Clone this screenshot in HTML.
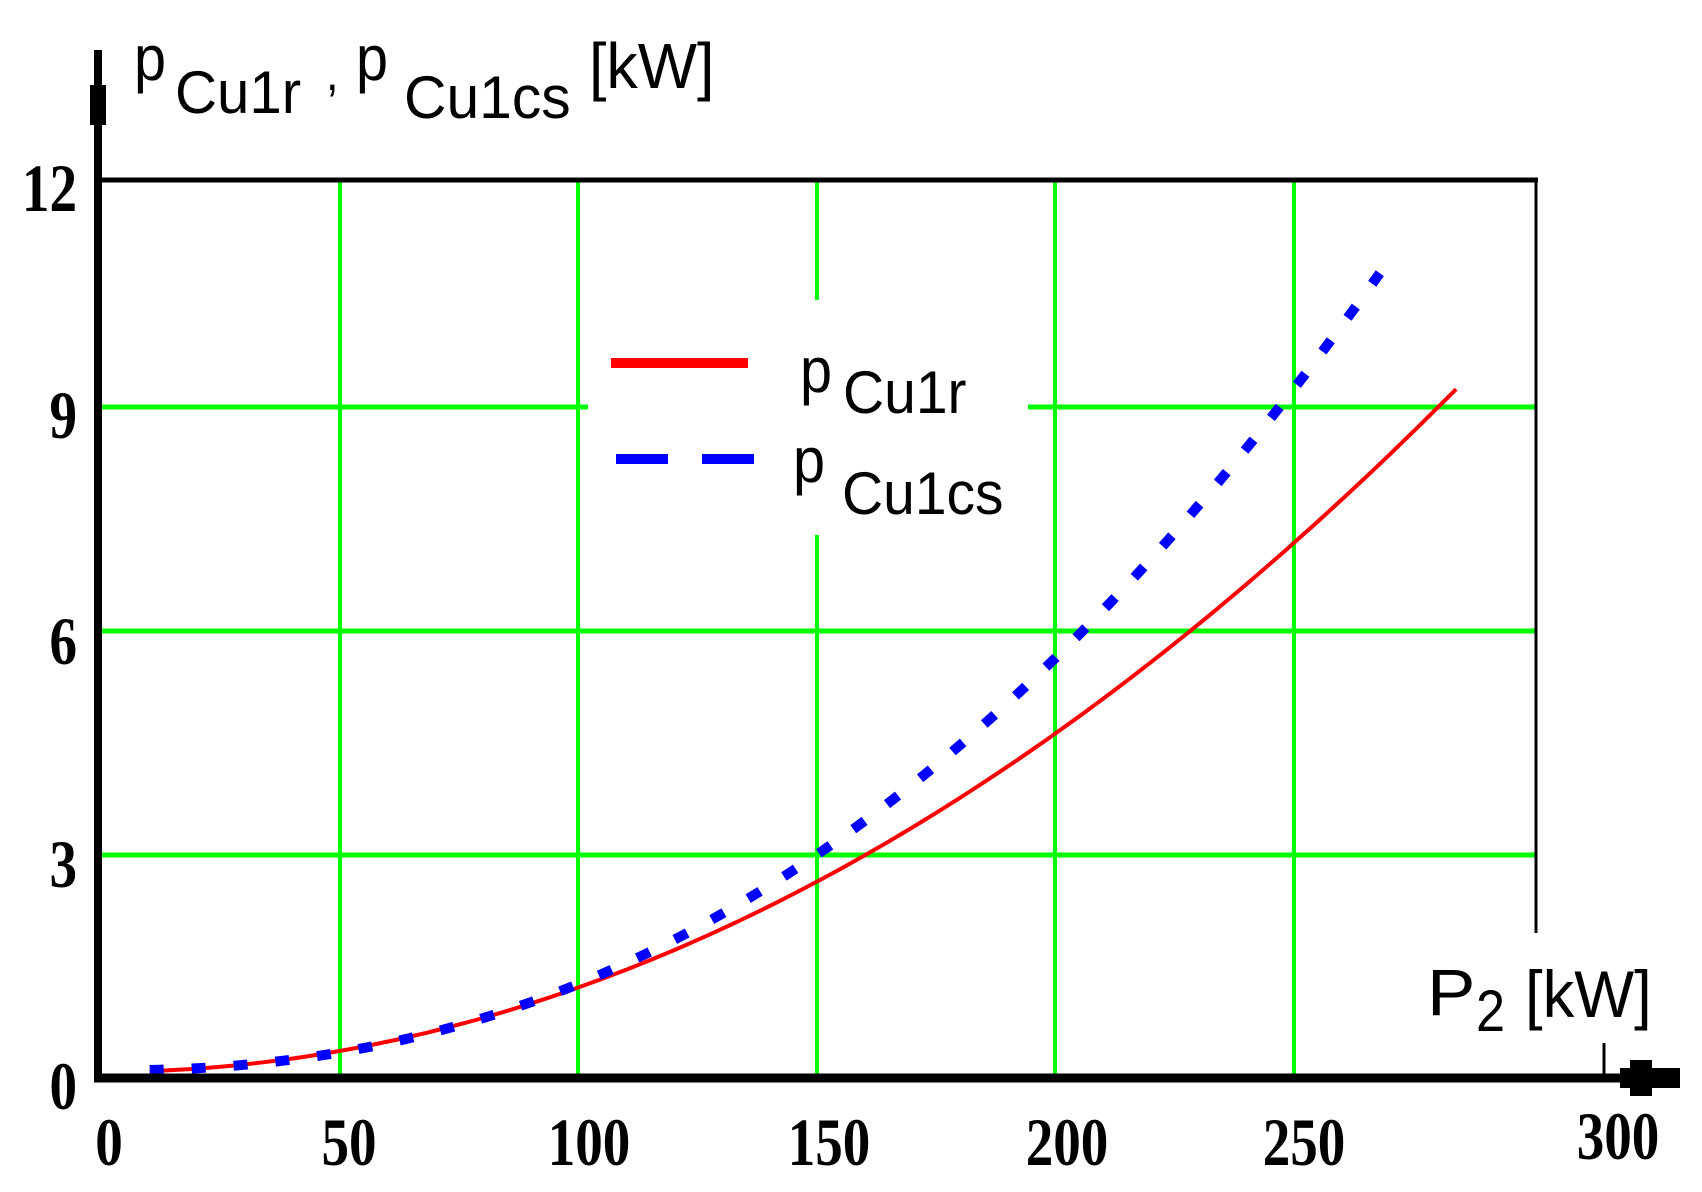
<!DOCTYPE html>
<html><head><meta charset="utf-8"><style>
html,body{margin:0;padding:0;background:#fff;}
svg{display:block;}
.t{font-family:"Liberation Serif",serif;font-weight:bold;font-size:68px;fill:#000;}
.s{font-family:"Liberation Sans",sans-serif;fill:#000;}
</style></head><body>
<svg id="c" width="1702" height="1192" viewBox="0 0 1702 1192" xmlns="http://www.w3.org/2000/svg">
<rect width="1702" height="1192" fill="#fff"/>
<g stroke="#00ff00" stroke-width="4">
<line x1="340" y1="182" x2="340" y2="1078"/>
<line x1="578" y1="182" x2="578" y2="1078"/>
<line x1="817" y1="182" x2="817" y2="1078"/>
<line x1="1055" y1="182" x2="1055" y2="1078"/>
<line x1="1294" y1="182" x2="1294" y2="1078"/>
</g>
<g stroke="#00ff00" stroke-width="5">
<line x1="100" y1="407" x2="1536" y2="407"/>
<line x1="100" y1="631" x2="1536" y2="631"/>
<line x1="100" y1="855" x2="1536" y2="855"/>
</g>
<rect x="588" y="300" width="440" height="235" fill="#fff"/>
<path id="red" fill="none" stroke="#ff0000" stroke-width="4"/>
<path id="blue" fill="none" stroke="#0000ff" stroke-width="10" stroke-dasharray="14 28"/>
<!-- axes -->
<line x1="100" y1="180" x2="1538" y2="180" stroke="#000" stroke-width="5"/>
<line x1="1536" y1="180" x2="1536" y2="933" stroke="#000" stroke-width="3"/>
<line x1="98" y1="1082" x2="98" y2="50" stroke="#000" stroke-width="8"/>
<rect x="90" y="85" width="16" height="40" fill="#000"/>
<line x1="94" y1="1078" x2="1680" y2="1078" stroke="#000" stroke-width="9"/>
<rect x="1620" y="1068" width="60" height="20" fill="#000"/>
<rect x="1630" y="1060" width="22" height="36" fill="#000"/>
<line x1="1604" y1="1043" x2="1604" y2="1078" stroke="#000" stroke-width="3"/>
<!-- legend -->
<rect x="611" y="358" width="137" height="10" fill="#ff0000"/>
<rect x="616" y="454" width="52" height="10" fill="#0000ff"/>
<rect x="702" y="454" width="52" height="10" fill="#0000ff"/>
<g class="s" transform="translate(800,0) scale(0.9,1)"><text x="0" y="392" font-size="64">p</text></g>
<g class="s" transform="translate(843,0) scale(0.95,1)"><text x="0" y="413" font-size="60">Cu1r</text></g>
<g class="s" transform="translate(793,0) scale(0.9,1)"><text x="0" y="482" font-size="64">p</text></g>
<g class="s" transform="translate(842,0) scale(0.95,1)"><text x="0" y="514" font-size="60">Cu1cs</text></g>
<!-- title -->
<g class="s" transform="translate(134,0) scale(0.9,1)"><text x="0" y="80" font-size="64">p</text></g>
<g class="s" transform="translate(175,0) scale(0.97,1)"><text x="0" y="113" font-size="60">Cu1r</text></g>
<g class="s" transform="translate(326,0) scale(0.9,1)"><text x="0" y="90" font-size="50">,</text></g>
<g class="s" transform="translate(356,0) scale(0.9,1)"><text x="0" y="80" font-size="64">p</text></g>
<g class="s" transform="translate(404,0) scale(0.98,1)"><text x="0" y="118" font-size="60">Cu1cs</text></g>
<g class="s" transform="translate(589,0) scale(0.98,1)"><text x="0" y="88" font-size="64">[kW]</text></g>
<!-- x label -->
<g class="s" transform="translate(1427,0) scale(1.1,1)"><text x="0" y="1015" font-size="66">P</text></g>
<g class="s" transform="translate(1476,0) scale(0.9,1)"><text x="0" y="1031" font-size="58">2</text></g>
<g class="s" transform="translate(1525,0) scale(0.96,1)"><text x="0" y="1017" font-size="66">[kW]</text></g>
<!-- tick labels -->
<g class="t" text-anchor="middle">
<g transform="translate(109,0) scale(0.81,1)"><text x="0" y="1165">0</text></g>
<g transform="translate(349,0) scale(0.81,1)"><text x="0" y="1165">50</text></g>
<g transform="translate(589,0) scale(0.81,1)"><text x="0" y="1165">100</text></g>
<g transform="translate(829,0) scale(0.81,1)"><text x="0" y="1165">150</text></g>
<g transform="translate(1067,0) scale(0.81,1)"><text x="0" y="1165">200</text></g>
<g transform="translate(1304,0) scale(0.81,1)"><text x="0" y="1165">250</text></g>
<g transform="translate(1618,0) scale(0.81,1)"><text x="0" y="1159">300</text></g>
</g>
<g class="t" text-anchor="end">
<g transform="translate(77,0) scale(0.81,1)"><text x="0" y="211">12</text></g>
<g transform="translate(77,0) scale(0.81,1)"><text x="0" y="438">9</text></g>
<g transform="translate(77,0) scale(0.81,1)"><text x="0" y="664">6</text></g>
<g transform="translate(77,0) scale(0.81,1)"><text x="0" y="887">3</text></g>
<g transform="translate(77,0) scale(0.81,1)"><text x="0" y="1109">0</text></g>
</g>
</svg>
<script>
function X(v){return 102+v*4.768;}
function Y(v){return 1078-v*74.93;}
var r="",b="";
for(var x=10;x<=284;x+=2){r+=(x==10?"M":"L")+X(x).toFixed(1)+","+Y(0.000113*x*x+0.08).toFixed(1);}
for(var x=10;x<=268;x+=2){b+=(x==10?"M":"L")+X(x).toFixed(1)+","+Y(9.1*Math.pow(x/250,2.25)+0.1).toFixed(1);}
document.getElementById("red").setAttribute("d",r);
document.getElementById("blue").setAttribute("d",b);
</script>
</body></html>
